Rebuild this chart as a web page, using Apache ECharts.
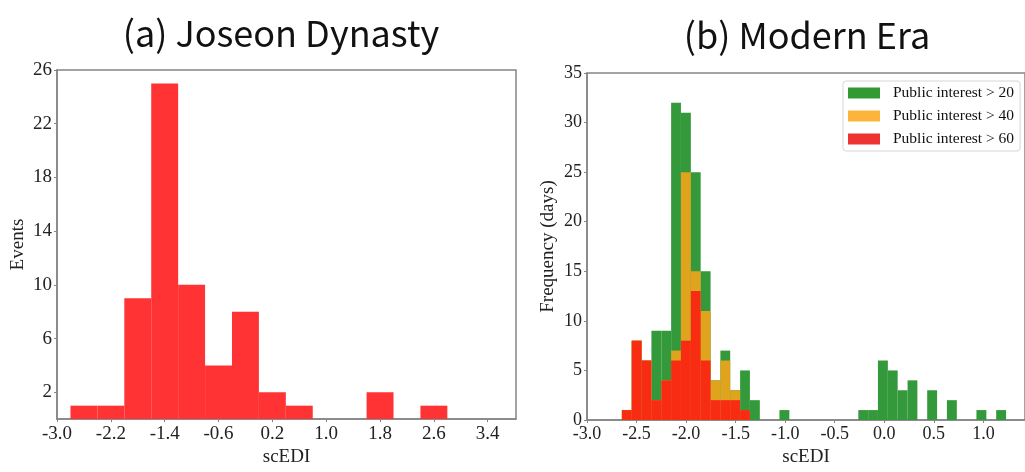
<!DOCTYPE html>
<html>
<head>
<meta charset="utf-8">
<script src="https://cdn.jsdelivr.net/npm/echarts@6/dist/echarts.min.js"></script>
<style>
html,body{margin:0;padding:0;background:#fff;}
#chart{width:1025px;height:472px;}
</style>
</head>
<body>
<div id="chart"></div>
<script>
// ---------- (a) Joseon Dynasty ----------
const joseonEdges = [-2.8, -2.4, -2.0, -1.6, -1.2, -0.8, -0.4, 0.0, 0.4, 0.8, 1.2, 1.6, 2.0, 2.4, 2.8];
const joseonEvents = [1, 1, 9, 25, 10, 4, 8, 2, 1, 0, 0, 2, 0, 1];
const joseonXTicks = [-3.0, -2.2, -1.4, -0.6, 0.2, 1.0, 1.8, 2.6, 3.4];
const joseonYTicks = [2, 6, 10, 14, 18, 22, 26];

// ---------- (b) Modern Era ----------
const modernEdges = [-2.648, -2.549, -2.449, -2.350, -2.250, -2.151, -2.052, -1.952, -1.853, -1.753,
  -1.654, -1.555, -1.455, -1.356, -1.256, -1.157, -1.058, -0.958, -0.859, -0.759,
  -0.660, -0.561, -0.461, -0.362, -0.262, -0.163, -0.064, 0.036, 0.135, 0.235,
  0.334, 0.433, 0.533, 0.632, 0.732, 0.831, 0.930, 1.030, 1.129, 1.229];
const interest20 = [1, 8, 6, 9, 9, 32, 31, 25, 15, 4, 7, 3, 5, 2, 0, 0, 1, 0, 0, 0,
  0, 0, 0, 0, 1, 1, 6, 5, 3, 4, 0, 3, 0, 2, 0, 0, 1, 0, 1];
const interest40 = [1, 8, 6, 2, 4, 7, 25, 15, 11, 4, 6, 3, 1, 0, 0, 0, 0, 0, 0, 0,
  0, 0, 0, 0, 0, 0, 0, 0, 0, 0, 0, 0, 0, 0, 0, 0, 0, 0, 0];
const interest60 = [1, 8, 6, 2, 4, 6, 8, 13, 6, 2, 2, 2, 1, 0, 0, 0, 0, 0, 0, 0,
  0, 0, 0, 0, 0, 0, 0, 0, 0, 0, 0, 0, 0, 0, 0, 0, 0, 0, 0];
const modernXTicks = [-3.0, -2.5, -2.0, -1.5, -1.0, -0.5, 0.0, 0.5, 1.0];
const modernYTicks = [0, 5, 10, 15, 20, 25, 30, 35];
const seriesNames = ['Public interest > 20', 'Public interest > 40', 'Public interest > 60'];

function toBins(edges, counts) {
  return counts.map((c, i) => [edges[i], edges[i + 1], c]);
}

function histSeries(name, edges, counts, color, xi) {
  return {
    type: 'custom',
    name: name,
    xAxisIndex: xi, yAxisIndex: xi,
    data: toBins(edges, counts),
    encode: { x: [0, 1], y: 2 },
    clip: true,
    silent: true,
    itemStyle: { color: color },
    renderItem: function (params, api) {
      const v = api.value(2);
      if (!v) return null;
      const p0 = api.coord([api.value(0), v]);
      const p1 = api.coord([api.value(1), 0]);
      return {
        type: 'rect',
        shape: { x: p0[0], y: p0[1], width: p1[0] - p0[0], height: p1[1] - p0[1] },
        style: { fill: color }
      };
    }
  };
}

const serif = 'Liberation Serif';
const axisGray = '#858585';

function xAxisCfg(gi, min, max, ticks, fs, margin, gap) {
  return {
    type: 'value', gridIndex: gi, min: min, max: max,
    name: 'scEDI', nameLocation: 'middle', nameGap: gap,
    nameTextStyle: { fontFamily: serif, fontSize: 19, color: '#222' },
    axisLine: { show: true, onZero: false, lineStyle: { color: axisGray, width: 1.5 } },
    axisTick: { show: true, inside: false, length: 3, customValues: ticks, lineStyle: { color: axisGray } },
    axisLabel: { customValues: ticks, margin: margin, fontFamily: serif, fontSize: fs, color: '#222',
      formatter: v => Number(v).toFixed(1) },
    splitLine: { show: false }
  };
}
function yAxisCfg(gi, min, max, ticks, name, fs, gap) {
  return {
    type: 'value', gridIndex: gi, min: min, max: max,
    name: name, nameLocation: 'middle', nameGap: gap, nameRotate: 90,
    nameTextStyle: { fontFamily: serif, fontSize: 19, color: '#222' },
    axisLine: { show: true, onZero: false, lineStyle: { color: axisGray, width: 1.5 } },
    axisTick: { show: true, inside: false, length: 3, customValues: ticks, lineStyle: { color: axisGray } },
    axisLabel: { customValues: ticks, margin: 5, fontFamily: serif, fontSize: fs, color: '#222' },
    splitLine: { show: false }
  };
}

const chart = echarts.init(document.getElementById('chart'), null, { renderer: 'canvas' });
chart.setOption({
  animation: false,
  backgroundColor: '#fff',
  title: [
    { text: '(a) Joseon Dynasty', left: 276, top: 10, textAlign: 'center',
      textStyle: { fontFamily: 'Noto Sans CJK KR', fontWeight: 'normal', fontSize: 36, color: '#111' } },
    { text: '(b) Modern Era', left: 802, top: 12, textAlign: 'center',
      textStyle: { fontFamily: 'Noto Sans CJK KR', fontWeight: 'normal', fontSize: 36, color: '#111' } }
  ],
  grid: [
    { left: 57, top: 70, right: 509, bottom: 44, show: true, borderColor: axisGray, borderWidth: 1.5, backgroundColor: 'transparent' },
    { left: 587, top: 73, right: -3, bottom: 52, show: true, borderColor: axisGray, borderWidth: 1.5, backgroundColor: 'transparent' }
  ],
  xAxis: [
    xAxisCfg(0, -3.0, 3.82, joseonXTicks, 19, 5, 21),
    xAxisCfg(1, -3.0, 1.42, modernXTicks, 18, 5, 20)
  ],
  yAxis: [
    yAxisCfg(0, 0, 26, joseonYTicks, 'Events', 19, 29),
    yAxisCfg(1, 0, 35, modernYTicks, 'Frequency (days)', 18, 29)
  ],
  legend: {
    orient: 'vertical', left: 843, top: 81,
    padding: [4, 6, 4, 5],
    itemWidth: 32, itemHeight: 11, itemGap: 7,
    backgroundColor: '#fff', borderColor: '#d6d6d6', borderWidth: 1, borderRadius: 3,
    textStyle: { fontFamily: serif, fontSize: 15.5, color: '#111', padding: [0, 0, 0, 8] },
    selectedMode: false,
    data: [
      { name: seriesNames[0], icon: 'rect', itemStyle: { color: '#339933' } },
      { name: seriesNames[1], icon: 'rect', itemStyle: { color: '#FDB43A' } },
      { name: seriesNames[2], icon: 'rect', itemStyle: { color: '#EE3333' } }
    ]
  },
  series: [
    histSeries('Events', joseonEdges, joseonEvents, '#FF3333', 0),
    histSeries(seriesNames[0], modernEdges, interest20, '#33993A', 1),
    histSeries(seriesNames[1], modernEdges, interest40, '#DFA31E', 1),
    histSeries(seriesNames[2], modernEdges, interest60, '#F72C12', 1)
  ]
});
</script>
</body>
</html>
